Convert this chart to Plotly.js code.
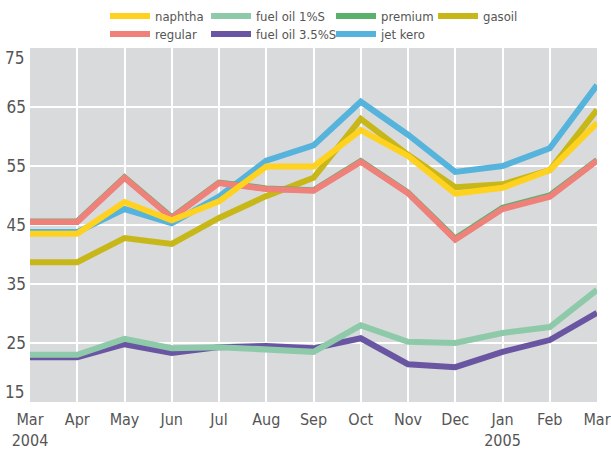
<!DOCTYPE html>
<html>
<head>
<meta charset="utf-8">
<script src="https://cdn.plot.ly/plotly-3.0.1.min.js"></script>
<style>html,body{margin:0;padding:0;background:#fff;}#chart{width:611px;height:450px;}</style>
</head>
<body>
<div id="chart"></div>
<script>
var months = ["Mar 2004","Apr 2004","May 2004","Jun 2004","Jul 2004","Aug 2004","Sep 2004","Oct 2004","Nov 2004","Dec 2004","Jan 2005","Feb 2005","Mar 2005"];
var tickLabels = ["Mar<br>2004","Apr","May","Jun","Jul","Aug","Sep","Oct","Nov","Dec","Jan<br>2005","Feb","Mar"];
var yTicks = [15,25,35,45,55,65,75];
var yTickLabels = ["","25","35","45","55","65",""];
var yEdgeLabels = ["15","75"];

var naphtha   = [43.5,43.5,48.9,45.8,49.0,54.9,54.9,61.1,56.7,50.3,51.3,54.3,62.3];
var regular   = [45.5,45.5,53.0,46.2,52.1,51.1,50.8,55.7,50.4,42.5,47.7,49.8,55.9];
var fuelOil1  = [23.0,23.0,25.7,24.1,24.3,23.8,23.5,28.0,25.2,25.0,26.7,27.7,34.0];
var fuelOil35 = [22.6,22.6,24.8,23.3,24.3,24.5,24.1,25.8,21.4,20.9,23.5,25.5,30.1];
var premium   = [45.6,45.6,53.1,46.3,52.2,51.2,50.9,55.85,50.5,42.7,47.9,50.0,56.0];
var jetKero   = [43.8,43.8,47.7,45.3,49.8,55.9,58.5,65.9,60.3,54.0,55.0,58.0,68.7];
var gasoil    = [38.7,38.7,42.8,41.8,46.2,49.9,53.0,63.0,56.9,51.4,51.9,54.3,64.5];

var xIdx = months.map(function(m, i) { return i; });

function tr(name, y, color, legend) {
  return {x: xIdx, y: y, name: name, type: 'scatter', mode: 'lines',
    line: {color: color, width: 6}, legend: legend, hoverinfo: 'none'};
}

var data = [
  tr('gasoil', gasoil, '#c8b719', 'legend7'),
  tr('jet kero', jetKero, '#56b4dc', 'legend6'),
  tr('premium', premium, '#5ab06c', 'legend3'),
  tr('fuel oil 3.5%S', fuelOil35, '#6a55a2', 'legend5'),
  tr('fuel oil 1%S', fuelOil1, '#8ecaa9', 'legend2'),
  tr('regular', regular, '#ef807a', 'legend4'),
  tr('naphtha', naphtha, '#ffd21f', 'legend')
];

var FONT = '"DejaVu Sans Condensed", "DejaVu Sans", sans-serif';
function leg(xpx, ypx) {
  return {xref: 'container', yref: 'container', x: xpx/611, y: 1 - ypx/450,
    xanchor: 'left', yanchor: 'middle',
    orientation: 'h', bgcolor: 'rgba(0,0,0,0)', borderwidth: 0, itemwidth: 40,
    font: {family: FONT, size: 13, color: '#555'}};
}

var annFont = {family: FONT, size: 17, color: '#555'};

var layout = {
  width: 611, height: 450,
  margin: {l: 30, r: 14, t: 48, b: 48, pad: 0, autoexpand: false},
  paper_bgcolor: '#ffffff',
  plot_bgcolor: '#d9dadc',
  font: {family: FONT, size: 16, color: '#555'},
  showlegend: true,
  legend: leg(105, 16),
  legend2: leg(206, 16),
  legend3: leg(331, 16),
  legend7: leg(433, 16),
  legend4: leg(105, 34),
  legend5: leg(206, 34),
  legend6: leg(331, 34),
  xaxis: {
    range: [0, 12], tickvals: xIdx, ticktext: tickLabels,
    showgrid: true, gridcolor: '#ffffff', gridwidth: 2, zeroline: false, showline: false,
    ticks: '', automargin: false, ticklabelstandoff: 6,
    tickfont: {family: FONT, size: 16, color: '#555'}
  },
  yaxis: {
    range: [15, 75], tickvals: yTicks, ticktext: yTickLabels,
    showgrid: true, gridcolor: '#ffffff', gridwidth: 2,
    zeroline: false, showline: false, ticks: '', automargin: false, ticklabelstandoff: 3,
    tickfont: annFont
  },
  annotations: [
    {xref: 'paper', yref: 'y', x: 0, y: yTicks[0], text: yEdgeLabels[0], showarrow: false,
     xanchor: 'right', yanchor: 'bottom', xshift: -4, yshift: -2, font: annFont},
    {xref: 'paper', yref: 'y', x: 0, y: yTicks[6], text: yEdgeLabels[1], showarrow: false,
     xanchor: 'right', yanchor: 'top', xshift: -4, yshift: 2, font: annFont}
  ]
};

Plotly.newPlot('chart', data, layout, {displayModeBar: false, staticPlot: true});
</script>
</body>
</html>
